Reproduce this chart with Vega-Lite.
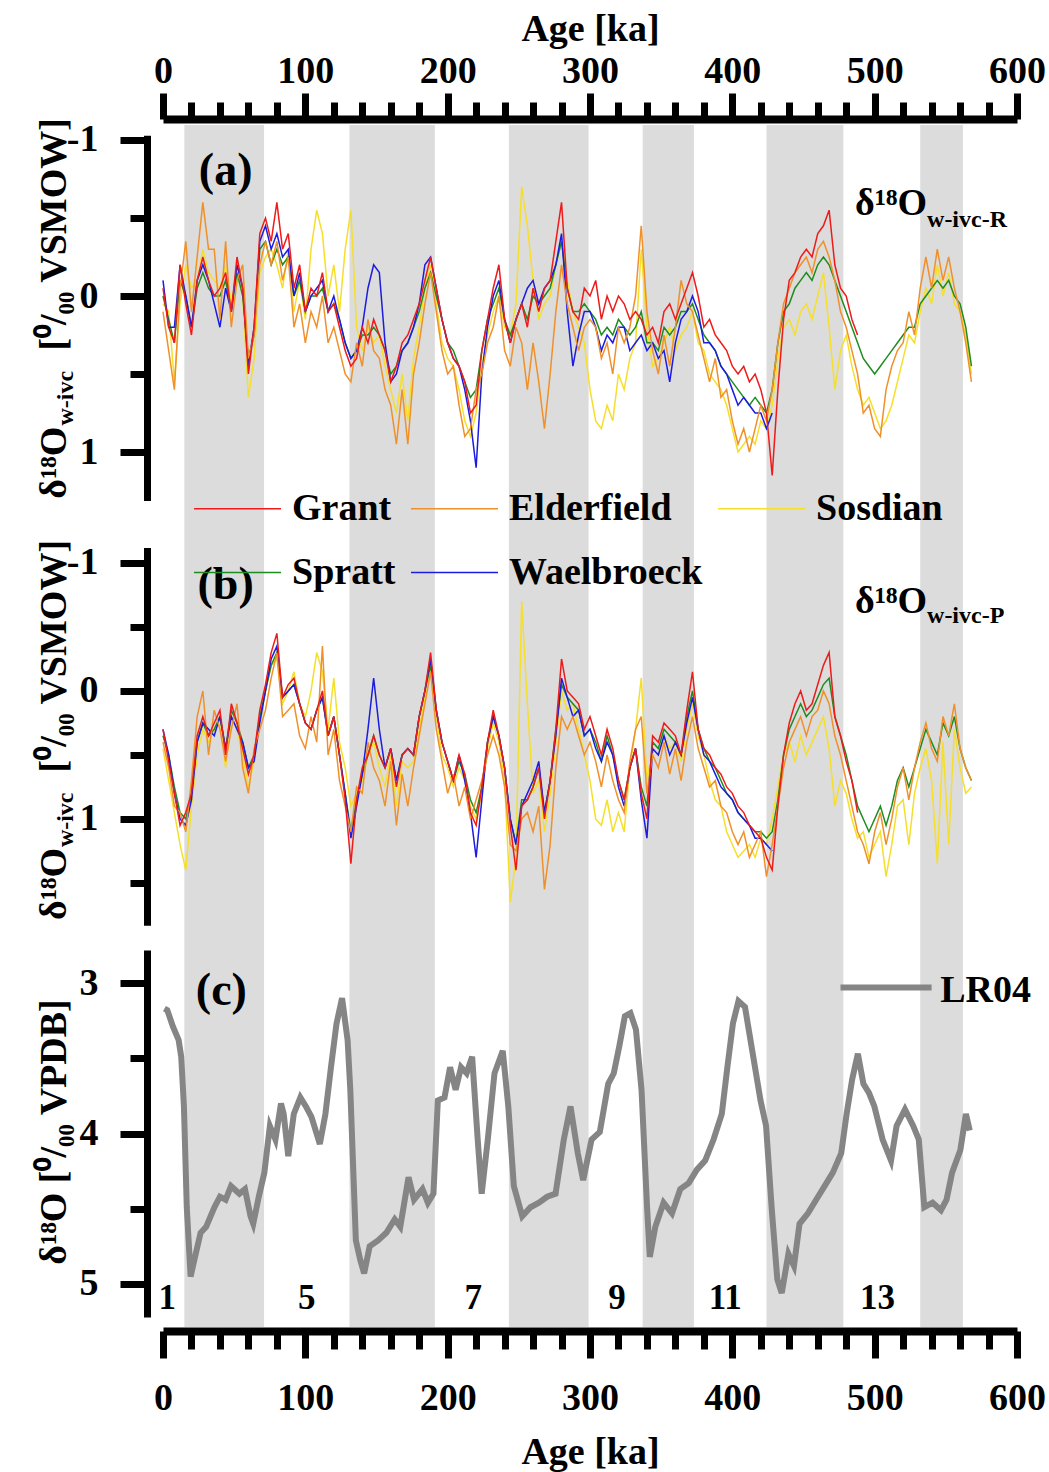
{
"$schema":"https://vega.github.io/schema/vega-lite/v6.json",
"width":854,"height":1202,
"autosize":{"type":"none"},
"padding":{"left":163,"top":125,"right":32,"bottom":145},
"config":{"view":{"stroke":null},
"axis":{"grid":false,"domainColor":"#000","tickColor":"#000","labelColor":"#000","titleColor":"#000","labelFont":"Liberation Serif","titleFont":"Liberation Serif","labelFontWeight":"bold","titleFontWeight":"bold","labelFontSize":38,"titleFontSize":38,"domainWidth":7,"tickWidth":7},
"text":{"font":"Liberation Serif","fontWeight":"bold","color":"#000"}},
"datasets":{
"bands":[{"s":15,"e":71},{"s":131,"e":191},{"s":243,"e":299},{"s":337,"e":373},{"s":424,"e":478},{"s":532,"e":562}],
"mis":[{"m":"1","t":3},{"m":"5","t":101},{"m":"7","t":218},{"m":"9","t":319},{"m":"11","t":395},{"m":"13","t":502}],
"a":[
{"t":0,"G":-0.05,"E":0.1,"S":0.05,"P":0,"W":-0.1},
{"t":4,"G":0.2,"E":0.35,"S":0.1,"P":0.15,"W":0.2},
{"t":8,"G":0.3,"E":0.6,"S":0.55,"P":0.3,"W":0.2},
{"t":12,"G":-0.2,"E":-0.05,"S":0.05,"P":-0.1,"W":-0.2},
{"t":16,"G":0.05,"E":-0.35,"S":-0.2,"P":0,"W":0},
{"t":20,"G":0.25,"E":0.1,"S":-0.05,"P":0.2,"W":0.2},
{"t":24,"G":-0.1,"E":-0.25,"S":-0.1,"P":-0.05,"W":-0.1},
{"t":28,"G":-0.25,"E":-0.6,"S":-0.3,"P":-0.15,"W":-0.2},
{"t":32,"G":-0.1,"E":-0.3,"S":-0.15,"P":-0.05,"W":-0.1},
{"t":36,"G":0,"E":-0.3,"S":-0.1,"P":0,"W":0.05},
{"t":40,"G":-0.05,"E":0.15,"S":-0.05,"P":0,"W":0.2},
{"t":44,"G":-0.15,"E":-0.35,"S":-0.2,"P":-0.1,"W":-0.05},
{"t":48,"G":0.1,"E":0.2,"S":0.05,"P":0.1,"W":0.1},
{"t":52,"G":-0.25,"E":-0.1,"S":-0.15,"P":-0.15,"W":-0.2},
{"t":56,"G":-0.05,"E":-0.2,"S":0,"P":0,"W":-0.05},
{"t":60,"G":0.5,"E":0.4,"S":0.65,"P":0.4,"W":0.45},
{"t":64,"G":0.2,"E":0.25,"S":0.4,"P":0.25,"W":0.2},
{"t":68,"G":-0.4,"E":-0.2,"S":-0.15,"P":-0.3,"W":-0.35},
{"t":72,"G":-0.5,"E":-0.35,"S":-0.25,"P":-0.35,"W":-0.45},
{"t":76,"G":-0.35,"E":-0.2,"S":-0.3,"P":-0.2,"W":-0.3},
{"t":80,"G":-0.6,"E":-0.35,"S":-0.2,"P":-0.3,"W":-0.4},
{"t":84,"G":-0.3,"E":-0.1,"S":-0.05,"P":-0.2,"W":-0.25},
{"t":88,"G":-0.4,"E":-0.25,"S":-0.3,"P":-0.25,"W":-0.3},
{"t":92,"G":-0.05,"E":0.2,"S":0.1,"P":0,"W":0},
{"t":96,"G":-0.2,"E":0.05,"S":-0.1,"P":-0.1,"W":-0.15},
{"t":100,"G":0.1,"E":0.3,"S":0.15,"P":0.1,"W":0.1},
{"t":104,"G":-0.05,"E":0.1,"S":-0.3,"P":0,"W":0},
{"t":108,"G":0,"E":0.2,"S":-0.55,"P":0,"W":-0.05},
{"t":112,"G":-0.15,"E":0,"S":-0.4,"P":-0.05,"W":-0.1},
{"t":116,"G":0.1,"E":0.3,"S":0,"P":0.1,"W":0.1},
{"t":120,"G":0.05,"E":0.2,"S":-0.2,"P":0.05,"W":0},
{"t":124,"G":0.2,"E":0.35,"S":0.1,"P":0.15,"W":0.15},
{"t":128,"G":0.35,"E":0.5,"S":-0.3,"P":0.3,"W":0.3},
{"t":132,"G":0.45,"E":0.55,"S":-0.55,"P":0.4,"W":0.4},
{"t":136,"G":0.4,"E":0.3,"S":0.2,"P":0.35,"W":0.35},
{"t":140,"G":0.2,"E":0.45,"S":0.35,"P":0.25,"W":0.2},
{"t":144,"G":0.3,"E":0.15,"S":0.2,"P":0.25,"W":-0.05},
{"t":148,"G":0.15,"E":0.35,"S":0.3,"P":0.2,"W":-0.2},
{"t":152,"G":0.25,"E":0.4,"S":0.25,"P":0.25,"W":-0.15},
{"t":156,"G":0.35,"E":0.6,"S":0.45,"P":0.35,"W":0.3},
{"t":160,"G":0.55,"E":0.7,"S":0.6,"P":0.5,"W":0.55},
{"t":164,"G":0.45,"E":0.95,"S":0.75,"P":0.45,"W":0.5},
{"t":168,"G":0.3,"E":0.6,"S":0.5,"P":0.35,"W":0.35},
{"t":172,"G":0.25,"E":0.95,"S":0.8,"P":0.3,"W":0.3},
{"t":176,"G":0.15,"E":0.5,"S":0.4,"P":0.2,"W":0.2},
{"t":180,"G":0.05,"E":0.3,"S":0.2,"P":0.1,"W":0.05},
{"t":184,"G":-0.1,"E":0.05,"S":-0.05,"P":-0.05,"W":-0.2},
{"t":188,"G":-0.25,"E":-0.15,"S":-0.2,"P":-0.15,"W":-0.25},
{"t":192,"G":-0.05,"E":0.1,"S":0.05,"P":0,"W":-0.05},
{"t":196,"G":0.15,"E":0.35,"S":0.3,"P":0.15,"W":0.15},
{"t":200,"G":0.3,"E":0.5,"S":0.4,"P":0.3,"W":0.3},
{"t":204,"G":0.4,"E":0.45,"S":0.45,"P":0.35,"W":0.4},
{"t":208,"G":0.45,"E":0.7,"S":0.6,"P":0.45,"W":0.45},
{"t":212,"G":0.55,"E":0.9,"S":0.8,"P":0.55,"W":0.6},
{"t":216,"G":0.75,"E":0.85,"S":0.9,"P":0.65,"W":0.8},
{"t":220,"G":0.7,"E":0.6,"S":0.75,"P":0.6,"W":1.1},
{"t":224,"G":0.35,"E":0.5,"S":0.45,"P":0.35,"W":0.5},
{"t":228,"G":0.15,"E":0.3,"S":0.25,"P":0.15,"W":0.2},
{"t":232,"G":-0.05,"E":0.2,"S":0.1,"P":0.05,"W":0},
{"t":236,"G":-0.2,"E":0,"S":0,"P":-0.05,"W":-0.1},
{"t":240,"G":0.15,"E":0.35,"S":0.2,"P":0.15,"W":0.15},
{"t":244,"G":0.3,"E":0.45,"S":0.25,"P":0.25,"W":0.3},
{"t":248,"G":0.15,"E":0.2,"S":0.05,"P":0.15,"W":0.15},
{"t":252,"G":0.05,"E":0.3,"S":-0.7,"P":0.05,"W":0.05},
{"t":256,"G":0.2,"E":0.6,"S":-0.45,"P":0.15,"W":-0.05},
{"t":260,"G":-0.05,"E":0.3,"S":-0.1,"P":0,"W":-0.1},
{"t":264,"G":0.1,"E":0.55,"S":0.15,"P":0.05,"W":0.05},
{"t":268,"G":-0.05,"E":0.85,"S":0.05,"P":0,"W":-0.05},
{"t":272,"G":-0.1,"E":0.5,"S":0,"P":-0.05,"W":-0.1},
{"t":276,"G":-0.35,"E":0.1,"S":-0.2,"P":-0.2,"W":-0.2},
{"t":280,"G":-0.6,"E":-0.2,"S":-0.35,"P":-0.35,"W":-0.4},
{"t":284,"G":-0.05,"E":0.05,"S":-0.1,"P":-0.05,"W":0.1},
{"t":288,"G":0.1,"E":0.2,"S":0.1,"P":0.1,"W":0.45},
{"t":292,"G":0.15,"E":0.35,"S":0.2,"P":0.1,"W":0.25},
{"t":296,"G":-0.05,"E":0.2,"S":0.3,"P":0.05,"W":0.1},
{"t":300,"G":0,"E":0.15,"S":0.6,"P":0.1,"W":0.1},
{"t":304,"G":-0.1,"E":0.2,"S":0.8,"P":0.15,"W":0.2},
{"t":308,"G":0.15,"E":0.4,"S":0.85,"P":0.25,"W":0.35},
{"t":312,"G":0,"E":0.3,"S":0.7,"P":0.2,"W":0.25},
{"t":316,"G":0.1,"E":0.5,"S":0.8,"P":0.25,"W":0.3},
{"t":320,"G":0,"E":0.2,"S":0.5,"P":0.15,"W":0.2},
{"t":324,"G":0.05,"E":0.3,"S":0.6,"P":0.2,"W":0.2},
{"t":328,"G":0.15,"E":0.2,"S":0.4,"P":0.25,"W":0.35},
{"t":332,"G":0.1,"E":0,"S":0.3,"P":0.2,"W":0.3},
{"t":336,"G":0.15,"E":-0.45,"S":-0.3,"P":0.1,"W":0.25},
{"t":340,"G":0.25,"E":0.1,"S":0.2,"P":0.3,"W":0.35},
{"t":344,"G":0.2,"E":0.35,"S":0.45,"P":0.3,"W":0.3},
{"t":348,"G":0.3,"E":0.5,"S":0.4,"P":0.35,"W":0.4},
{"t":352,"G":0.1,"E":0.25,"S":0.3,"P":0.2,"W":0.35},
{"t":356,"G":0.05,"E":0.45,"S":0.2,"P":0.25,"W":0.55},
{"t":360,"G":0.15,"E":0.2,"S":0.35,"P":0.2,"W":0.3},
{"t":364,"G":0.05,"E":-0.1,"S":0.25,"P":0.1,"W":0.15},
{"t":368,"G":-0.05,"E":0.05,"S":0.2,"P":0.1,"W":0.1},
{"t":372,"G":-0.15,"E":0.1,"S":0.1,"P":0.05,"W":0},
{"t":376,"G":0,"E":0.25,"S":0.3,"P":0.15,"W":0.1},
{"t":380,"G":0.2,"E":0.4,"S":0.35,"P":0.25,"W":0.3},
{"t":384,"G":0.15,"E":0.55,"S":0.5,"P":0.3,"W":0.3},
{"t":388,"G":0.25,"E":0.4,"S":0.55,"P":0.35,"W":0.35},
{"t":392,"G":0.3,"E":0.65,"S":0.6,"P":0.45,"W":0.45},
{"t":396,"G":0.35,"E":0.6,"S":0.7,"P":0.5,"W":0.5},
{"t":400,"G":0.45,"E":0.8,"S":0.85,"P":0.55,"W":0.6},
{"t":404,"G":0.5,"E":0.95,"S":1.0,"P":0.6,"W":0.7},
{"t":408,"G":0.45,"E":0.85,"S":0.95,"P":0.65,"W":0.65},
{"t":412,"G":0.55,"E":1.0,"S":0.9,"P":0.7,"W":0.7},
{"t":416,"G":0.5,"E":0.85,"S":0.95,"P":0.65,"W":0.75},
{"t":420,"G":0.6,"E":0.7,"S":0.8,"P":0.7,"W":0.75},
{"t":424,"G":0.75,"E":0.8,"S":0.85,"P":0.75,"W":0.85},
{"t":428,"G":1.15,"E":0.6,"S":0.7,"P":0.6,"W":0.75},
{"t":432,"G":0.6,"E":0.3,"S":0.4,"P":0.3},
{"t":436,"G":0.15,"E":0.05,"S":0.2,"P":0.1},
{"t":440,"G":-0.1,"E":-0.05,"S":0.15,"P":0.05},
{"t":444,"G":-0.15,"E":-0.15,"S":0.25,"P":-0.05},
{"t":448,"G":-0.25,"E":-0.2,"S":0.1,"P":-0.1},
{"t":452,"G":-0.3,"E":-0.25,"S":0.05,"P":-0.15},
{"t":456,"G":-0.25,"E":-0.15,"S":0.15,"P":-0.1},
{"t":460,"G":-0.4,"E":-0.3,"S":0,"P":-0.2},
{"t":464,"G":-0.45,"E":-0.35,"S":-0.15,"P":-0.25},
{"t":468,"G":-0.55,"E":-0.25,"S":0.2,"P":-0.2},
{"t":472,"G":-0.2,"E":-0.1,"S":0.6,"P":-0.1},
{"t":476,"G":-0.05,"E":0.1,"S":0.35,"P":0},
{"t":480,"G":0,"E":0.2,"S":0.25,"P":0.1},
{"t":484,"G":0.15,"E":0.35,"S":0.45,"P":0.2},
{"t":488,"G":0.25,"E":0.5,"S":0.6,"P":0.3},
{"t":492,"E":0.75,"S":0.7,"P":0.4},
{"t":496,"E":0.7,"S":0.65,"P":0.45},
{"t":500,"E":0.85,"S":0.75,"P":0.5},
{"t":504,"E":0.9,"S":0.85,"P":0.45},
{"t":508,"E":0.6,"S":0.8,"P":0.4},
{"t":512,"E":0.45,"S":0.7,"P":0.35},
{"t":516,"E":0.35,"S":0.55,"P":0.3},
{"t":520,"E":0.3,"S":0.4,"P":0.25},
{"t":524,"E":0.1,"S":0.25,"P":0.2},
{"t":528,"E":0.25,"S":0.3,"P":0.2},
{"t":532,"E":-0.05,"S":0.1,"P":0.05},
{"t":536,"E":-0.25,"S":-0.05,"P":0},
{"t":540,"E":-0.05,"S":0.05,"P":-0.05},
{"t":544,"E":-0.3,"S":-0.2,"P":-0.1},
{"t":548,"E":-0.1,"S":0,"P":-0.05},
{"t":552,"E":-0.25,"S":-0.15,"P":-0.1},
{"t":556,"E":-0.05,"S":0.05,"P":0},
{"t":560,"E":0.1,"S":0.1,"P":0.05},
{"t":564,"E":0.3,"S":0.25,"P":0.2},
{"t":568,"E":0.55,"S":0.5,"P":0.45}
],
"b":[
{"t":0,"G":0.3,"E":0.4,"S":0.45,"P":0.35,"W":0.3},
{"t":4,"G":0.55,"E":0.6,"S":0.7,"P":0.5,"W":0.5},
{"t":8,"G":0.8,"E":0.9,"S":0.95,"P":0.75,"W":0.8},
{"t":12,"G":1.05,"E":0.95,"S":1.2,"P":0.95,"W":1.0},
{"t":16,"G":0.95,"E":1.1,"S":1.4,"P":1.0,"W":1.05},
{"t":20,"G":0.8,"E":0.7,"S":0.9,"P":0.8,"W":0.85},
{"t":24,"G":0.35,"E":0.2,"S":0.5,"P":0.4,"W":0.4},
{"t":28,"G":0.2,"E":0,"S":0.3,"P":0.25,"W":0.25},
{"t":32,"G":0.35,"E":0.5,"S":0.4,"P":0.35,"W":0.3},
{"t":36,"G":0.25,"E":0.15,"S":0.3,"P":0.3,"W":0.35},
{"t":40,"G":0.15,"E":0.3,"S":0.2,"P":0.2,"W":0.2},
{"t":44,"G":0.5,"E":0.55,"S":0.6,"P":0.45,"W":0.45},
{"t":48,"G":0.1,"E":0.3,"S":0.2,"P":0.15,"W":0.2},
{"t":52,"G":0.25,"E":0.1,"S":0.3,"P":0.25,"W":0.3},
{"t":56,"G":0.45,"E":0.6,"S":0.5,"P":0.4,"W":0.4},
{"t":60,"G":0.65,"E":0.8,"S":0.75,"P":0.6,"W":0.6},
{"t":64,"G":0.5,"E":0.45,"S":0.55,"P":0.5,"W":0.55},
{"t":68,"G":0.15,"E":0.3,"S":0.25,"P":0.2,"W":0.25},
{"t":72,"G":-0.05,"E":0.15,"S":0,"P":0,"W":0},
{"t":76,"G":-0.3,"E":-0.1,"S":-0.2,"P":-0.2,"W":-0.25},
{"t":80,"G":-0.45,"E":-0.3,"S":-0.25,"P":-0.3,"W":-0.35},
{"t":84,"G":0.05,"E":0.2,"S":0.1,"P":0.05,"W":0.05},
{"t":88,"G":-0.05,"E":0.15,"S":0,"P":0,"W":0},
{"t":92,"G":-0.1,"E":0.1,"S":-0.15,"P":-0.05,"W":-0.05},
{"t":96,"G":0.1,"E":0.35,"S":0.1,"P":0.1,"W":0.1},
{"t":100,"G":0.25,"E":0.45,"S":0.2,"P":0.25,"W":0.25},
{"t":104,"G":0.3,"E":0.2,"S":0,"P":0.3,"W":0.3},
{"t":108,"G":0.15,"E":0.4,"S":-0.3,"P":0.15,"W":0.15},
{"t":112,"G":0,"E":-0.35,"S":-0.15,"P":0.05,"W":0.05},
{"t":116,"G":0.35,"E":0.5,"S":0.3,"P":0.35,"W":0.35},
{"t":120,"G":0.2,"E":0.3,"S":-0.1,"P":0.2,"W":0.2},
{"t":124,"G":0.5,"E":0.7,"S":0.4,"P":0.5,"W":0.5},
{"t":128,"G":0.85,"E":0.9,"S":0.6,"P":0.8,"W":0.8},
{"t":132,"G":1.35,"E":1.1,"S":0.9,"P":1.1,"W":1.15},
{"t":136,"G":0.85,"E":0.75,"S":0.8,"P":0.85,"W":0.9},
{"t":140,"G":0.6,"E":0.8,"S":0.7,"P":0.65,"W":0.65},
{"t":144,"G":0.5,"E":0.4,"S":0.5,"P":0.5,"W":0.3},
{"t":148,"G":0.35,"E":0.6,"S":0.4,"P":0.35,"W":-0.1},
{"t":152,"G":0.5,"E":0.7,"S":0.6,"P":0.5,"W":0.3},
{"t":156,"G":0.6,"E":0.9,"S":0.75,"P":0.6,"W":0.6},
{"t":160,"G":0.45,"E":0.55,"S":0.5,"P":0.45,"W":0.45},
{"t":164,"G":0.75,"E":1.05,"S":0.9,"P":0.7,"W":0.7},
{"t":168,"G":0.5,"E":0.65,"S":0.55,"P":0.5,"W":0.5},
{"t":172,"G":0.45,"E":0.9,"S":0.6,"P":0.45,"W":0.45},
{"t":176,"G":0.5,"E":0.6,"S":0.55,"P":0.5,"W":0.5},
{"t":180,"G":0.2,"E":0.35,"S":0.3,"P":0.2,"W":0.2},
{"t":184,"G":0,"E":0.1,"S":0.05,"P":0,"W":0},
{"t":188,"G":-0.3,"E":-0.15,"S":-0.2,"P":-0.2,"W":-0.25},
{"t":192,"G":0.15,"E":0.3,"S":0.2,"P":0.15,"W":0.15},
{"t":196,"G":0.4,"E":0.55,"S":0.5,"P":0.4,"W":0.4},
{"t":200,"G":0.55,"E":0.8,"S":0.6,"P":0.55,"W":0.55},
{"t":204,"G":0.7,"E":0.65,"S":0.75,"P":0.7,"W":0.7},
{"t":208,"G":0.5,"E":0.9,"S":0.6,"P":0.55,"W":0.5},
{"t":212,"G":0.65,"E":0.75,"S":0.7,"P":0.65,"W":0.7},
{"t":216,"G":0.95,"E":1.0,"S":0.9,"P":0.85,"W":0.95},
{"t":220,"G":1.05,"E":0.85,"S":1.0,"P":0.95,"W":1.3},
{"t":224,"G":0.75,"E":0.7,"S":0.8,"P":0.75,"W":0.85},
{"t":228,"G":0.4,"E":0.5,"S":0.45,"P":0.4,"W":0.4},
{"t":232,"G":0.15,"E":0.35,"S":0.25,"P":0.2,"W":0.2},
{"t":236,"G":0.35,"E":0.5,"S":0.4,"P":0.35,"W":0.35},
{"t":240,"G":0.6,"E":0.75,"S":0.7,"P":0.6,"W":0.6},
{"t":244,"G":1.05,"E":1.2,"S":1.65,"P":1.0,"W":1.0},
{"t":248,"G":1.4,"E":1.25,"S":1.3,"P":1.2,"W":1.2},
{"t":252,"G":0.9,"E":1.0,"S":-0.7,"P":0.85,"W":0.9},
{"t":256,"G":0.85,"E":0.95,"S":0.1,"P":0.85,"W":0.8},
{"t":260,"G":0.75,"E":1.1,"S":0.8,"P":0.75,"W":0.7},
{"t":264,"G":0.6,"E":0.9,"S":0.7,"P":0.6,"W":0.55},
{"t":268,"G":1.0,"E":1.55,"S":1.1,"P":0.95,"W":0.95},
{"t":272,"G":0.7,"E":1.2,"S":0.8,"P":0.7,"W":0.7},
{"t":276,"G":0.3,"E":0.6,"S":0.4,"P":0.3,"W":0.35},
{"t":280,"G":-0.25,"E":0.2,"S":0,"P":-0.05,"W":-0.1},
{"t":284,"G":0,"E":0.3,"S":0.15,"P":0.05,"W":0.05},
{"t":288,"G":0.05,"E":0.2,"S":0.1,"P":0.1,"W":0.2},
{"t":292,"G":0.1,"E":0.35,"S":0.3,"P":0.15,"W":0.15},
{"t":296,"G":0.3,"E":0.5,"S":0.5,"P":0.35,"W":0.35},
{"t":300,"G":0.2,"E":0.4,"S":0.7,"P":0.3,"W":0.3},
{"t":304,"G":0.35,"E":0.55,"S":1.0,"P":0.4,"W":0.45},
{"t":308,"G":0.5,"E":0.75,"S":1.05,"P":0.55,"W":0.55},
{"t":312,"G":0.3,"E":0.5,"S":0.85,"P":0.35,"W":0.4},
{"t":316,"G":0.45,"E":0.7,"S":1.1,"P":0.5,"W":0.5},
{"t":320,"G":0.7,"E":0.85,"S":0.95,"P":0.7,"W":0.75},
{"t":324,"G":0.85,"E":0.95,"S":1.1,"P":0.85,"W":0.9},
{"t":328,"G":0.6,"E":0.55,"S":0.6,"P":0.6,"W":0.6},
{"t":332,"G":0.45,"E":0.3,"S":0.3,"P":0.45,"W":0.45},
{"t":336,"G":0.8,"E":0.2,"S":-0.1,"P":0.75,"W":0.85},
{"t":340,"G":1.0,"E":0.8,"S":0.7,"P":0.9,"W":1.15},
{"t":344,"G":0.35,"E":0.5,"S":0.45,"P":0.4,"W":0.45},
{"t":348,"G":0.4,"E":0.6,"S":0.5,"P":0.45,"W":0.5},
{"t":352,"G":0.25,"E":0.4,"S":0.35,"P":0.3,"W":0.35},
{"t":356,"G":0.3,"E":0.65,"S":0.45,"P":0.35,"W":0.5},
{"t":360,"G":0.35,"E":0.45,"S":0.4,"P":0.4,"W":0.4},
{"t":364,"G":0.5,"E":0.7,"S":0.55,"P":0.5,"W":0.5},
{"t":368,"G":0.15,"E":0.4,"S":0.3,"P":0.2,"W":0.25},
{"t":372,"G":-0.15,"E":0.2,"S":0.1,"P":0,"W":0.05},
{"t":376,"G":0.3,"E":0.45,"S":0.35,"P":0.3,"W":0.3},
{"t":380,"G":0.45,"E":0.6,"S":0.5,"P":0.45,"W":0.5},
{"t":384,"G":0.5,"E":0.75,"S":0.7,"P":0.55,"W":0.55},
{"t":388,"G":0.6,"E":0.7,"S":0.85,"P":0.6,"W":0.65},
{"t":392,"G":0.65,"E":0.9,"S":0.9,"P":0.7,"W":0.75},
{"t":396,"G":0.75,"E":0.95,"S":1.1,"P":0.8,"W":0.8},
{"t":400,"G":0.8,"E":1.1,"S":1.2,"P":0.85,"W":0.85},
{"t":404,"G":0.9,"E":1.2,"S":1.3,"P":0.95,"W":0.95},
{"t":408,"G":0.95,"E":1.1,"S":1.25,"P":1.0,"W":1.0},
{"t":412,"G":1.05,"E":1.3,"S":1.2,"P":1.05,"W":1.05},
{"t":416,"G":1.1,"E":1.2,"S":1.3,"P":1.1,"W":1.15},
{"t":420,"G":1.15,"E":1.1,"S":1.15,"P":1.1,"W":1.15},
{"t":424,"G":1.3,"E":1.45,"S":1.2,"P":1.15,"W":1.2},
{"t":428,"G":1.4,"E":1.2,"S":1.0,"P":1.1,"W":1.25},
{"t":432,"G":0.9,"E":0.9,"S":0.75,"P":0.85},
{"t":436,"G":0.5,"E":0.6,"S":0.5,"P":0.5},
{"t":440,"G":0.25,"E":0.4,"S":0.4,"P":0.3},
{"t":444,"G":0.1,"E":0.3,"S":0.55,"P":0.2},
{"t":448,"G":0,"E":0.2,"S":0.35,"P":0.1},
{"t":452,"G":0.15,"E":0.35,"S":0.5,"P":0.2},
{"t":456,"G":0.1,"E":0.2,"S":0.4,"P":0.15},
{"t":460,"G":-0.05,"E":0.15,"S":0.3,"P":0.05},
{"t":464,"G":-0.2,"E":0,"S":0.2,"P":-0.05},
{"t":468,"G":-0.3,"E":0.1,"S":0.45,"P":-0.1},
{"t":472,"G":0.2,"E":0.35,"S":0.9,"P":0.2},
{"t":476,"G":0.35,"E":0.5,"S":0.7,"P":0.35},
{"t":480,"G":0.55,"E":0.7,"S":0.8,"P":0.5},
{"t":484,"G":0.7,"E":0.9,"S":1.0,"P":0.7},
{"t":488,"G":0.95,"E":1.1,"S":1.15,"P":0.9},
{"t":492,"E":1.2,"S":1.1,"P":1.0},
{"t":496,"E":1.35,"S":1.3,"P":1.1},
{"t":500,"E":1.1,"S":1.2,"P":1.0},
{"t":504,"E":0.95,"S":1.1,"P":0.9},
{"t":508,"E":1.2,"S":1.45,"P":1.05},
{"t":512,"E":1.0,"S":1.2,"P":0.9},
{"t":516,"E":0.75,"S":0.9,"P":0.7},
{"t":520,"E":0.6,"S":0.85,"P":0.6},
{"t":524,"E":0.85,"S":1.2,"P":0.75},
{"t":528,"E":0.6,"S":0.8,"P":0.6},
{"t":532,"E":0.4,"S":0.6,"P":0.45},
{"t":536,"E":0.25,"S":0.45,"P":0.3},
{"t":540,"E":0.45,"S":0.7,"P":0.4},
{"t":544,"E":0.55,"S":1.35,"P":0.5},
{"t":548,"E":0.2,"S":0.4,"P":0.25},
{"t":552,"E":0.35,"S":1.2,"P":0.35},
{"t":556,"E":0.1,"S":0.3,"P":0.2},
{"t":560,"E":0.45,"S":0.6,"P":0.45},
{"t":564,"E":0.6,"S":0.8,"P":0.6},
{"t":568,"E":0.7,"S":0.75,"P":0.7}
],
"lr":[
{"t":1,"d":3.17},{"t":3,"d":3.18},{"t":7,"d":3.29},{"t":11,"d":3.38},{"t":12.8,"d":3.49},{"t":14.7,"d":3.82},{"t":16.7,"d":4.49},{"t":19.4,"d":4.95},{"t":22.5,"d":4.82},{"t":26.4,"d":4.66},{"t":30.3,"d":4.62},{"t":36.1,"d":4.49},{"t":40,"d":4.42},{"t":44,"d":4.44},{"t":47.8,"d":4.35},{"t":53.7,"d":4.4},{"t":57.6,"d":4.37},{"t":61.5,"d":4.55},{"t":63.4,"d":4.6},{"t":67.3,"d":4.42},{"t":71.2,"d":4.26},{"t":75.1,"d":3.95},{"t":79,"d":4.04},{"t":82.9,"d":3.8},{"t":84.8,"d":3.87},{"t":88,"d":4.15},{"t":91.9,"d":3.87},{"t":96.5,"d":3.76},{"t":100.4,"d":3.82},{"t":104.3,"d":3.89},{"t":110.2,"d":4.07},{"t":114.1,"d":3.87},{"t":118,"d":3.56},{"t":121.9,"d":3.27},{"t":125.8,"d":3.1},{"t":129.7,"d":3.38},{"t":131.6,"d":3.71},{"t":135.5,"d":4.71},{"t":138.6,"d":4.84},{"t":141.3,"d":4.93},{"t":145.2,"d":4.75},{"t":151.1,"d":4.71},{"t":156.9,"d":4.66},{"t":162.8,"d":4.57},{"t":166.7,"d":4.62},{"t":172.5,"d":4.29},{"t":176.4,"d":4.44},{"t":182.3,"d":4.37},{"t":186.1,"d":4.46},{"t":190,"d":4.4},{"t":193.1,"d":3.78},{"t":197.8,"d":3.76},{"t":201.7,"d":3.56},{"t":205.6,"d":3.71},{"t":209.4,"d":3.56},{"t":213.3,"d":3.6},{"t":217.2,"d":3.49},{"t":221.1,"d":4.04},{"t":223.9,"d":4.4},{"t":228.2,"d":4.04},{"t":232.9,"d":3.6},{"t":238.7,"d":3.45},{"t":242.6,"d":3.82},{"t":246.5,"d":4.35},{"t":252.4,"d":4.55},{"t":258.2,"d":4.49},{"t":264.1,"d":4.46},{"t":269.9,"d":4.42},{"t":275.8,"d":4.4},{"t":281.6,"d":4.04},{"t":286.3,"d":3.82},{"t":291.4,"d":4.13},{"t":295.2,"d":4.31},{"t":301.1,"d":4.04},{"t":306.9,"d":3.99},{"t":312.8,"d":3.67},{"t":316.7,"d":3.6},{"t":320.6,"d":3.42},{"t":324.5,"d":3.22},{"t":328.4,"d":3.2},{"t":332.3,"d":3.31},{"t":336.2,"d":3.71},{"t":340.1,"d":4.49},{"t":342,"d":4.82},{"t":345.9,"d":4.62},{"t":351.7,"d":4.46},{"t":357.6,"d":4.53},{"t":363.4,"d":4.37},{"t":369.3,"d":4.33},{"t":375.1,"d":4.24},{"t":380.9,"d":4.18},{"t":386.8,"d":4.04},{"t":392.6,"d":3.87},{"t":396.5,"d":3.56},{"t":400.4,"d":3.27},{"t":404.3,"d":3.12},{"t":408.9,"d":3.16},{"t":414,"d":3.45},{"t":419.8,"d":3.78},{"t":423.7,"d":3.95},{"t":427.6,"d":4.49},{"t":431.6,"d":4.97},{"t":434.7,"d":5.06},{"t":439.4,"d":4.8},{"t":443.3,"d":4.88},{"t":447.2,"d":4.6},{"t":453.1,"d":4.53},{"t":458.9,"d":4.44},{"t":464.8,"d":4.35},{"t":470.6,"d":4.26},{"t":476.5,"d":4.13},{"t":480.3,"d":3.87},{"t":484.2,"d":3.64},{"t":488.2,"d":3.47},{"t":492.1,"d":3.67},{"t":496,"d":3.73},{"t":499.8,"d":3.82},{"t":505.6,"d":4.04},{"t":511.5,"d":4.18},{"t":515.4,"d":3.95},{"t":521.3,"d":3.84},{"t":527.1,"d":3.95},{"t":531,"d":4.04},{"t":534.9,"d":4.49},{"t":540.7,"d":4.46},{"t":546.6,"d":4.51},{"t":550.5,"d":4.44},{"t":554.4,"d":4.26},{"t":560.2,"d":4.11},{"t":564.1,"d":3.87},{"t":566.8,"d":3.98}
]
},
"layer":[
{"data":{"name":"bands"},
 "mark":{"type":"rect","color":"#dcdcdc"},
 "encoding":{
  "x":{"field":"s","type":"quantitative","scale":{"domain":[0,600],"nice":false,"zero":false},
   "axis":{"orient":"top","offset":6,"values":[0,20,40,60,80,100,120,140,160,180,200,220,240,260,280,300,320,340,360,380,400,420,440,460,480,500,520,540,560,580,600],
    "labelExpr":"datum.value % 100 === 0 ? datum.label : ''",
    "tickSize":{"condition":{"test":"datum.value % 100 === 0","value":26},"value":17},
    "domainWidth":8,"labelPadding":3,"labelFlush":false,"labelOverlap":false,"title":"Age [ka]","titlePadding":4}},
  "x2":{"field":"e"}}},
{"data":{"name":"bands"},
 "mark":{"type":"rect","opacity":0},
 "encoding":{
  "x":{"field":"s","type":"quantitative","scale":{"domain":[0,600],"nice":false,"zero":false},
   "axis":{"orient":"bottom","offset":4,"values":[0,20,40,60,80,100,120,140,160,180,200,220,240,260,280,300,320,340,360,380,400,420,440,460,480,500,520,540,560,580,600],
    "labelExpr":"datum.value % 100 === 0 ? datum.label : ''",
    "tickSize":{"condition":{"test":"datum.value % 100 === 0","value":27},"value":18},
    "domainWidth":8,"labelPadding":21,"labelFlush":false,"labelOverlap":false,"title":"Age [ka]","titlePadding":16}},
  "x2":{"field":"e"}}},
{"data":{"name":"a"},
 "transform":[{"fold":["S","P","W","E","G"],"as":["k","v"]},{"filter":"isValid(datum.v)"}],
 "layer":[
  {"mark":{"type":"line","strokeWidth":1.5},
   "encoding":{
    "x":{"field":"t","type":"quantitative","scale":{"domain":[0,600],"nice":false,"zero":false},"axis":null},
    "y":{"field":"v","type":"quantitative","scale":{"domain":[-1.03,1.31],"range":[10.3,375.4],"nice":false,"zero":false},
     "axis":{"orient":"left","offset":16,"values":[-1,-0.5,0,0.5,1],"labelExpr":"datum.value % 1 === 0 ? '' + datum.value : ''",
      "tickSize":{"condition":{"test":"datum.value % 1 === 0","value":27},"value":17},"labelPadding":22,"title":null,"labelOverlap":false}},
    "color":{"field":"k","type":"nominal","scale":{"domain":["G","E","S","P","W"],"range":["#ee1b1b","#f0902a","#f5df2a","#1e8c1e","#1c1ce0"]},
     "legend":{"orient":"none","legendX":30,"legendY":339,"direction":"horizontal","columns":3,"gridAlign":"each","columnPadding":12,"rowPadding":-14,
      "symbolType":"stroke","symbolSize":7569,"symbolStrokeWidth":1.5,"labelFont":"Liberation Serif","labelFontWeight":"bold","labelFontSize":38,"labelColor":"#000","labelOffset":10,"title":null,"labelLimit":400,
      "labelExpr":"{'G':'Grant','E':'Elderfield','S':'Sosdian','P':'Spratt','W':'Waelbroeck'}[datum.label]"}}}},
  {"data":{"values":[{}]},"mark":{"type":"text","fontSize":46,"align":"center","baseline":"middle"},
   "encoding":{"text":{"value":"(a)"},"x":{"datum":44},"y":{"datum":-0.8}}},
  {"data":{"values":[{}]},"mark":{"type":"text","fontSize":38,"align":"right","baseline":"alphabetic"},
   "encoding":{"text":{"value":"δ¹⁸O"},"x":{"datum":536.8},"y":{"datum":-0.519}}},
  {"data":{"values":[{}]},"mark":{"type":"text","fontSize":24,"align":"left","baseline":"alphabetic"},
   "encoding":{"text":{"value":"w-ivc-R"},"x":{"datum":536.8},"y":{"datum":-0.442}}},
  {"data":{"values":[{}]},"mark":{"type":"text","fontSize":38,"angle":270,"align":"left","baseline":"alphabetic"},
   "encoding":{"text":{"value":"δ¹⁸O"},"x":{"datum":-68},"y":{"datum":1.3}}},
  {"data":{"values":[{}]},"mark":{"type":"text","fontSize":24,"angle":270,"align":"left","baseline":"alphabetic"},
   "encoding":{"text":{"value":"w-ivc"},"x":{"datum":-63.5},"y":{"datum":0.83}}},
  {"data":{"values":[{}]},"mark":{"type":"text","fontSize":38,"angle":270,"align":"right","baseline":"alphabetic"},
   "encoding":{"text":{"value":"[⁰/₀₀ VSMOW]"},"x":{"datum":-68},"y":{"datum":-1.14}}}
 ]},
{"data":{"name":"b"},
 "transform":[{"fold":["S","P","W","E","G"],"as":["k","v"]},{"filter":"isValid(datum.v)"}],
 "layer":[
  {"mark":{"type":"line","strokeWidth":1.5},
   "encoding":{
    "x":{"field":"t","type":"quantitative","scale":{"domain":[0,600],"nice":false,"zero":false},"axis":null},
    "y":{"field":"v","type":"quantitative","scale":{"domain":[-1.12,1.83],"range":[422.6,800.2],"nice":false,"zero":false},
     "axis":{"orient":"left","offset":16,"values":[-1,-0.5,0,0.5,1,1.5],"labelExpr":"datum.value % 1 === 0 ? '' + datum.value : ''",
      "tickSize":{"condition":{"test":"datum.value % 1 === 0","value":27},"value":17},"labelPadding":22,"title":null,"labelOverlap":false}},
    "color":{"field":"k","type":"nominal","scale":{"domain":["G","E","S","P","W"],"range":["#ee1b1b","#f0902a","#f5df2a","#1e8c1e","#1c1ce0"]},
     "legend":{"orient":"none","legendX":30,"legendY":339,"direction":"horizontal","columns":3,"gridAlign":"each","columnPadding":12,"rowPadding":-14,
      "symbolType":"stroke","symbolSize":7569,"symbolStrokeWidth":1.5,"labelFont":"Liberation Serif","labelFontWeight":"bold","labelFontSize":38,"labelColor":"#000","labelOffset":10,"title":null,"labelLimit":400,
      "labelExpr":"{'G':'Grant','E':'Elderfield','S':'Sosdian','P':'Spratt','W':'Waelbroeck'}[datum.label]"}}}},
  {"data":{"values":[{}]},"mark":{"type":"text","fontSize":46,"align":"center","baseline":"middle"},
   "encoding":{"text":{"value":"(b)"},"x":{"datum":44},"y":{"datum":-0.83}}},
  {"data":{"values":[{}]},"mark":{"type":"text","fontSize":38,"align":"right","baseline":"alphabetic"},
   "encoding":{"text":{"value":"δ¹⁸O"},"x":{"datum":536.8},"y":{"datum":-0.609}}},
  {"data":{"values":[{}]},"mark":{"type":"text","fontSize":24,"align":"left","baseline":"alphabetic"},
   "encoding":{"text":{"value":"w-ivc-P"},"x":{"datum":536.8},"y":{"datum":-0.531}}},
  {"data":{"values":[{}]},"mark":{"type":"text","fontSize":38,"angle":270,"align":"left","baseline":"alphabetic"},
   "encoding":{"text":{"value":"δ¹⁸O"},"x":{"datum":-68},"y":{"datum":1.79}}},
  {"data":{"values":[{}]},"mark":{"type":"text","fontSize":24,"angle":270,"align":"left","baseline":"alphabetic"},
   "encoding":{"text":{"value":"w-ivc"},"x":{"datum":-63.5},"y":{"datum":1.22}}},
  {"data":{"values":[{}]},"mark":{"type":"text","fontSize":38,"angle":270,"align":"right","baseline":"alphabetic"},
   "encoding":{"text":{"value":"[⁰/₀₀ VSMOW]"},"x":{"datum":-68},"y":{"datum":-1.18}}}
 ]},
{"layer":[
  {"data":{"name":"lr"},"mark":{"type":"line","strokeWidth":6,"color":"#858585"},
   "encoding":{
    "x":{"field":"t","type":"quantitative","scale":{"domain":[0,600],"nice":false,"zero":false},"axis":null},
    "y":{"field":"d","type":"quantitative","scale":{"domain":[2.78,5.22],"range":[824.9,1192.1],"nice":false,"zero":false},
     "axis":{"orient":"left","offset":16,"values":[3,3.5,4,4.5,5],"labelExpr":"datum.value % 1 === 0 ? '' + datum.value : ''",
      "tickSize":{"condition":{"test":"datum.value % 1 === 0","value":27},"value":17},"labelPadding":22,"title":null,"labelOverlap":false}}}},
  {"data":{"name":"mis"},"mark":{"type":"text","fontSize":35,"align":"center","baseline":"middle"},
   "encoding":{"text":{"field":"m"},"x":{"field":"t","type":"quantitative","axis":null},"y":{"datum":5.09}}},
  {"data":{"values":[{}]},"mark":{"type":"text","fontSize":46,"align":"center","baseline":"middle"},
   "encoding":{"text":{"value":"(c)"},"x":{"datum":41},"y":{"datum":3.05}}},
  {"data":{"values":[{}]},"mark":{"type":"rule","strokeWidth":6,"color":"#858585"},
   "encoding":{"x":{"datum":476},"x2":{"datum":540},"y":{"datum":3.03}}},
  {"data":{"values":[{}]},"mark":{"type":"text","fontSize":38,"align":"left","baseline":"middle"},
   "encoding":{"text":{"value":"LR04"},"x":{"datum":546},"y":{"datum":3.05}}},
  {"data":{"values":[{}]},"mark":{"type":"text","fontSize":38,"angle":270,"align":"center","baseline":"alphabetic"},
   "encoding":{"text":{"value":"δ¹⁸O [⁰/₀₀ VPDB]"},"x":{"datum":-68},"y":{"datum":3.99}}}
 ]}
],
"resolve":{"scale":{"y":"independent"},"axis":{"x":"independent","y":"independent"}}
}
